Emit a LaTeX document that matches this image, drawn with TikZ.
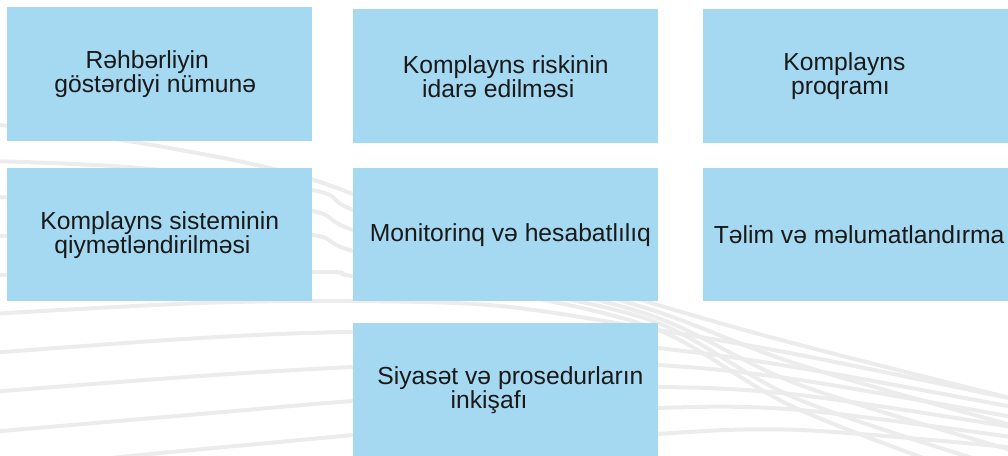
\documentclass[tikz,border=0pt]{standalone}
\usepackage{fontspec}
\setmainfont{Liberation Sans}
\definecolor{boxblue}{HTML}{A5D9F1}
\definecolor{swoosh}{HTML}{EBECEB}
\begin{document}
\begin{tikzpicture}[x=0.75pt,y=-0.75pt,
  box/.style={fill=boxblue, draw=none, anchor=north west, minimum width=228.75pt,
    minimum height=100.5pt, inner sep=0pt, align=center,
    font=\fontsize{18.5}{18}\selectfont, text=black!90},
  swirl/.style={draw=swoosh, line width=3pt}]
\useasboundingbox (0,0) rectangle (1008,456);
\begin{scope}
\clip (0,0) rectangle (1008,456);
% upper group (descending)
\draw[swirl] plot[smooth,tension=0.55] coordinates {(-10,124) (128,141) (270,168) (353,194) (500,255) (658,305) (800,345) (1018,400)};
\draw[swirl] plot[smooth,tension=0.55] coordinates {(-10,161) (140,168) (312,190) (353,210) (500,265) (658,312) (800,365) (1018,427)};
\draw[swirl] plot[smooth,tension=0.55] coordinates {(-10,197) (200,203) (312,211) (353,230) (500,275) (658,318) (800,385) (1018,452)};
\draw[swirl] plot[smooth,tension=0.55] coordinates {(-10,236) (200,234) (312,235) (353,251) (500,285) (658,323) (800,400) (1018,472)};
\draw[swirl] plot[smooth,tension=0.55] coordinates {(-10,275) (312,272) (353,276) (500,292) (658,330) (800,410) (1018,492)};
% lower group (near horizontal)
\draw[swirl] plot[smooth,tension=0.55] coordinates {(-10,314) (200,303) (353,301) (500,306) (658,330) (800,355) (1018,400)};
\draw[swirl] plot[smooth,tension=0.55] coordinates {(-10,353) (200,338) (353,332) (500,335) (658,348) (800,368) (1018,408)};
\draw[swirl] plot[smooth,tension=0.55] coordinates {(-10,392) (200,376) (353,367) (500,362) (658,365) (800,380) (1018,418)};
\draw[swirl] plot[smooth,tension=0.55] coordinates {(-10,432) (200,414) (353,401) (500,392) (658,387) (800,395) (1018,428)};
\draw[swirl] plot[smooth,tension=0.55] coordinates {(-10,471) (130,456) (353,435) (500,420) (658,408) (800,410) (1018,438)};
\draw[swirl] plot[smooth,tension=0.55] coordinates {(150,490) (353,470) (500,450) (658,434) (800,430) (1018,448)};
\end{scope}
% boxes
\node[box] (b1) at (7,7) {R\hspace{0pt}əhbərliyin\hspace*{18.75pt}\\göstərdiyi nümunə\hspace*{6.75pt}};
\node[box] (b2) at (353,9) {Komplayns riskinin\\idarə edilməsi\hspace*{11.25pt}};
\node[box] (b3) at (703,9) {Komplayns\hspace*{17pt}\\proqramı\hspace*{23pt}};
\node[box, minimum height=99.75pt] (b4) at (7,168) {Komplayns sisteminin\\qiymətləndirilməsi\hspace*{11pt}};
\node[box, minimum height=99.75pt] (b5) at (353,168) {\hspace*{7pt}Monitorinq və hesabatlılıq};
\node[box, minimum height=99.75pt] (b6) at (703,168) {\hspace*{5pt}Təlim və məlumatlandırma};
\node[box, minimum height=99.75pt] (b7) at (353,323) {\hspace*{7pt}Siyasət və prosedurların\\inkişafı\hspace*{25pt}};
\end{tikzpicture}
\end{document}
